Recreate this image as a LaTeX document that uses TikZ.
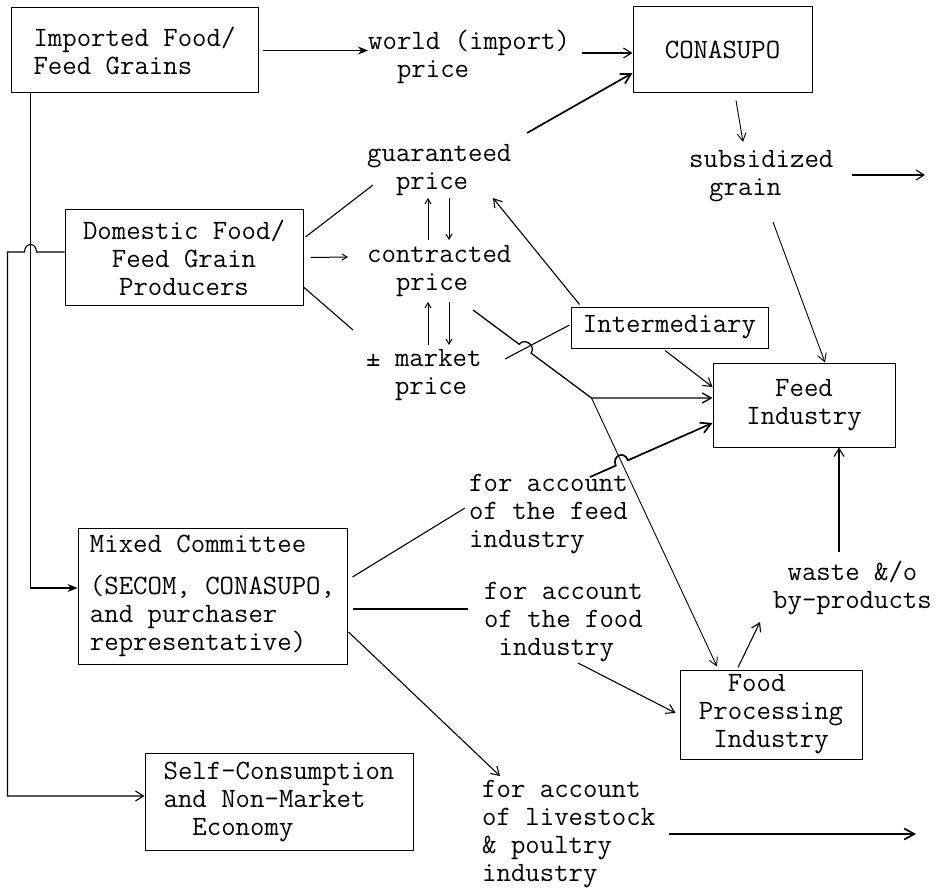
\documentclass[tikz,border=0pt]{standalone}
\usepackage{fontspec}
\usetikzlibrary{arrows.meta,calc}
\begin{document}
\begin{tikzpicture}[x=1pt,y=-1pt,
  every node/.style={font=\ttfamily\fontsize{28}{28}\selectfont, inner sep=0pt},
  box/.style={draw, line width=1pt, inner sep=2pt},
  ln/.style={line width=1.1pt},
  arr/.style={line width=1.1pt, -{Straight Barb[length=8pt,width=10pt]}},
  tarr/.style={line width=0.9pt, -{Straight Barb[length=8pt,width=9pt]}},
  bold/.style={line width=1.7pt, -{Straight Barb[length=10pt,width=11pt]}},
  solid tip/.style={line width=1.5pt, -{Stealth[length=10pt,width=8pt]}},
  small/.style={line width=1pt, -{Straight Barb[length=5pt,width=6pt]}},
]
\useasboundingbox (0,0) rectangle (944,893);

% boxes
\node[box, minimum width=247pt, minimum height=85pt, align=left] (imp) at (134.5,50.5) {Imported Food/\\Feed Grains};
\node[box, minimum width=179pt, minimum height=86pt] (cona) at (722.5,50) {CONASUPO};
\node[box, minimum width=238pt, minimum height=95pt, align=center] (dom) at (184,257.5) {Domestic Food/\\Feed Grain\\Producers};
\node[box, minimum width=197pt, minimum height=41pt] (inter) at (669.5,327.5) {Intermediary};
\node[box, minimum width=182pt, minimum height=84pt, align=center] (feed) at (804,405) {Feed\\Industry};
\node[box, minimum width=269pt, minimum height=136pt, align=left] (mixed) at (212.5,596) {Mixed Committee\\[14pt](SECOM, CONASUPO,\\and purchaser\\representative)};
\node[box, minimum width=182pt, minimum height=89pt, align=left] (food) at (771,714.5) {\phantom{xx}Food\\Processing\\\phantom{x}Industry};
\node[box, minimum width=268pt, minimum height=97pt, align=left] (self) at (279,801.5) {Self-Consumption\\and Non-Market\\\phantom{xx}Economy};

% text labels
\node[anchor=west, align=left] (world) at (368,56.5) {world (import)\\\phantom{xx}price};
\node[anchor=west, align=left] (guar) at (367,170.5) {guaranteed\\\phantom{xx}price};
\node[anchor=west, align=left] (contr) at (367,271) {contracted\\\phantom{xx}price};
\node[anchor=west, align=left] (market) at (366,375) {± market\\\phantom{xx}price};
\node[anchor=west, align=left] (subs) at (689,176.5) {subsidized\\\hspace*{20pt}grain};
\node[anchor=west, align=left] (feedacc) at (469,514) {for account\\of the feed\\industry};
\node[anchor=west, align=left] (foodacc) at (484,622) {for account\\of the food\\\phantom{x}industry};
\node[anchor=west, align=left] (waste) at (773,587.5) {\phantom{x}waste \&/o\\by-products};
\node[anchor=west, align=left] (live) at (482,834) {for account\\of livestock\\\& poultry\\industry};

\coordinate (subsout) at (925,175);
\coordinate (liveout) at (916,834);

% top row
\draw[solid tip] ([xshift=4pt]imp.east) -- (imp.east -| world.west);
\draw[arr] ($(world.west)+(214,-3.5)$) -- ($(cona.west)+(0,3)$);
\draw[bold] ($(guar.west)+(160,-37.5)$) -- ($(cona.west)+(0,23)$);
\draw[tarr] ($(cona.south)+(13.5,7)$) -- ($(subs.west)+(54,-34.5)$);
\draw[arr] ($(subs.west)+(163,-1.5)$) -- (subsout);
\draw[tarr] ($(subs.west)+(84,45.5)$) -- ($(feed.north)+(21,0)$);

% domestic producers to prices
\draw[ln] ($(dom.east)+(2,-20.5)$) -- ($(guar.west)+(6,14.5)$);
\draw[small] ($(dom.east)+(7,0)$) -- ($(contr.west)+(-19,-14)$);
\draw[ln] ($(dom.east)+(0,29.5)$) -- ($(market.west)+(-13,-45)$);

% two-way arrows between prices
\draw[small] ($(contr.west)+(61,-31)$) -- ($(contr.west)+(61,-73)$);
\draw[small] ($(contr.west)+(82,-73)$) -- ($(contr.west)+(82,-31)$);
\draw[small] ($(contr.west)+(61,74)$) -- ($(contr.west)+(61,31)$);
\draw[small] ($(contr.west)+(82,31)$) -- ($(contr.west)+(82,74)$);

% intermediary
\draw[arr] ($(inter.north west)+(9,-2)$) -- ($(guar.west)+(126,27.5)$);
\draw[ln] ($(market.west)+(139,-16)$) -- ($(inter.west)+(-1,-2.5)$);
\draw[arr] ($(inter.south)+(-4.5,2)$) -- ($(feed.west)+(0,-18)$);

% contracted price to feed industry, with a jump
\coordinate (c0) at ($(contr.west)+(106,39)$);
\coordinate (jn) at ($(feed.west)+(-121,-7)$);
\coordinate (ja) at ($(c0)!0.39!(jn)$);
\coordinate (jb) at ($(c0)!0.49!(jn)$);
\draw[line width=1.3pt, -{Straight Barb[length=9pt,width=10pt]}] (c0) -- (ja) .. controls ($(ja)+(5.4,-7.2)$) and ($(jb)+(5.4,-7.2)$) .. (jb) -- (jn) -- ($(feed.west)+(0,-7)$);
\draw[tarr] (jn) -- ($(food.north)+(-54,-3)$);

% mixed committee
\draw[ln] ($(mixed.east)+(5,-19)$) -- ($(feedacc.west)+(-4,-6)$);
\draw[ln] ($(mixed.east)+(5,13)$) -- ($(foodacc.west)+(-16,-13)$);
\draw[arr] ($(mixed.east)+(1,36)$) -- ($(live.west)+(18,-58)$);

% for account of the feed industry, with a jump
\coordinate (f0) at ($(feedacc.west)+(121,-37)$);
\coordinate (f1) at ($(feed.west)+(0,18)$);
\coordinate (fa) at ($(f0)!0.21!(f1)$);
\coordinate (fb) at ($(f0)!0.31!(f1)$);
\draw[bold] (f0) -- (fa) .. controls ($(fa)+(-4,-10)$) and ($(fb)+(-4,-10)$) .. (fb) -- (f1);

\draw[arr] ($(foodacc.west)+(94,41)$) -- ($(food.west)+(-4,-1.5)$);
\draw[arr] ($(food.north)+(-33,-2)$) -- ($(waste.west)+(-13,34.5)$);
\coordinate (w1) at ($(waste.west)+(66,-35.5)$);
\draw[arr] (w1) -- (w1 |- feed.south);
\draw[bold] ($(live.west)+(187,0)$) -- (liveout);

% left-hand feeds
\coordinate (v0) at ($(imp.south west)+(20,0)$);
\draw[solid tip] (v0) |- ($(mixed.west)+(0,-8)$);
\coordinate (h0) at ($(dom.west)+(0,-5.5)$);
\coordinate (hx) at (h0 -| v0);
\coordinate (ha) at ($(hx)+(6,0)$);
\coordinate (hb) at ($(hx)+(-6,0)$);
\draw[arr] (h0) -- (ha) .. controls ($(ha)+(0,-10)$) and ($(hb)+(0,-10)$) .. (hb) -- ($(hx)+(-23,0)$) |- ($(self.west)+(0,-5.5)$);
\end{tikzpicture}
\end{document}
